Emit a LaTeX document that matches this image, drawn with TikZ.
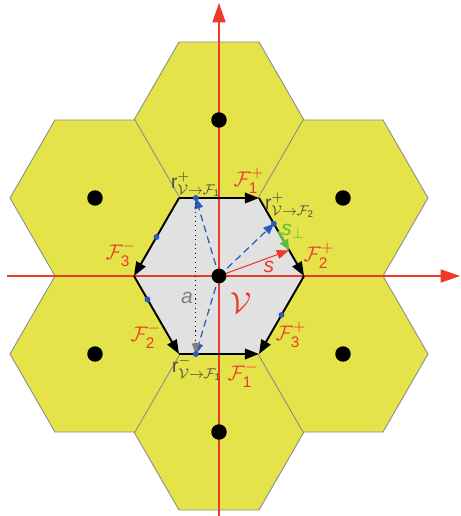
\documentclass[tikz,border=0pt]{standalone}
\usepackage{amsmath,amssymb}
\usepackage{fontspec}
\setmainfont{Liberation Sans}
\usetikzlibrary{arrows.meta,calc}

\definecolor{hexyellow}{RGB}{229,227,74}
\definecolor{cellgray}{RGB}{225,225,225}
\definecolor{axisred}{RGB}{236,58,42}
\definecolor{fluxblue}{RGB}{38,92,190}
\definecolor{perpgreen}{RGB}{88,190,58}
\definecolor{labelgray}{RGB}{70,78,70}

\newcommand{\Fc}[2]{\mathcal{F}^{#2}_{\text{#1}}}
\newcommand{\rflux}[2]{\text{r}^{#2}_{\mathcal{V}\to\mathcal{F}_{\text{#1}}}}

\begin{document}
\begin{tikzpicture}[x=0.02cm, y=0.02cm, >=Stealth,
    tile/.style={fill=hexyellow, draw=gray!90, line width=0.5pt},
    edge/.style={-{Triangle[length=8pt,width=6pt]}, line width=1.1pt},
    flux/.style={fluxblue, dash pattern=on 4pt off 2.5pt, line width=0.7pt, -{Triangle[length=6pt,width=5pt]}},
    axis/.style={axisred, line width=0.6pt, -{Triangle[length=11pt,width=7.5pt]}},
    lab/.style={text=axisred, font=\fontsize{12.5}{14}\selectfont, inner sep=1pt},
    rlab/.style={text=labelgray, font=\fontsize{11}{13}\selectfont, inner sep=1pt}]
    \useasboundingbox (-219,-240) rectangle (241,276);

    % neighbouring cells
    \foreach \cx/\cy in {0/156, 0/-156, 124/78, -124/78, 124/-78, -124/-78} {
        \draw[tile] (\cx+85,\cy) -- ++(-45,78) -- ++(-80,0) -- ++(-45,-78) -- ++(45,-78) -- ++(80,0) -- cycle;
    }

    % central cell V
    \coordinate (O) at (0,0);
    \coordinate (R) at (85,0);
    \coordinate (TR) at (40,78);
    \coordinate (TL) at (-40,78);
    \coordinate (L) at (-85,0);
    \coordinate (BL) at (-40,-78);
    \coordinate (BR) at (40,-78);
    \fill[cellgray] (R) -- (TR) -- (TL) -- (L) -- (BL) -- (BR) -- cycle;

    % axes
    \draw[axis] (-212,0) -- (241,0);
    \draw[axis] (0,-240) -- (0,273);

    % oriented faces
    \draw[edge] (TL) -- (TR);
    \draw[edge] (TR) -- (R);
    \draw[edge] (TL) -- (L);
    \draw[edge] (L) -- (BL);
    \draw[edge] (BL) -- (BR);
    \draw[edge] (R) -- (BR);

    % points on the faces
    \coordinate (r1p) at ($(TL)!0.21!(TR)$);
    \coordinate (r2p) at ($(TR)!0.33!(R)$);
    \coordinate (r3m) at ($(TL)!0.5!(L)$);
    \coordinate (r2m) at ($(L)!0.3!(BL)$);
    \coordinate (r1m) at ($(BL)!0.21!(BR)$);
    \coordinate (r3p) at ($(R)!0.5!(BR)$);
    \coordinate (S) at ($(TR)!0.67!(R)$);

    % s and its tangential part
    \draw[perpgreen, line width=1.4pt, shorten <=5pt, -{Triangle[length=6pt,width=5pt]}] (r2p) -- (S);
    \draw[axisred, line width=0.6pt, -{Triangle[length=7pt,width=5pt]}] (O) -- (S);

    % vectors to the faces
    \draw[flux] (O) -- (r1p);
    \draw[flux] (O) -- (r2p);
    \draw[flux] (O) -- (r1m);
    \draw[dotted, line width=0.6pt, -{Triangle[length=6pt,width=4.5pt,color=gray]}] (r1p) -- (r1m);

    \foreach \p in {r1p, r2p, r3m, r2m, r1m, r3p} {
        \fill[fluxblue] (\p) circle (1.7pt);
    }

    % cell centres
    \fill (O) circle (4.2pt);
    \foreach \cx/\cy in {0/156, 0/-156, 124/78, -124/78, 124/-78, -124/-78} {
        \fill (\cx,\cy) circle (4.4pt);
    }

    % labels
    \node[lab] (F1p) at (30,95) {$\Fc{1}{+}$};
    \node[lab] (F2p) at (100,20) {$\Fc{2}{+}$};
    \node[lab] (F3p) at (72,-59) {$\Fc{3}{+}$};
    \node[lab] (F1m) at (24,-99) {$\Fc{1}{-}$};
    \node[lab] (F2m) at (-73,-60) {$\Fc{2}{-}$};
    \node[lab] (F3m) at (-98,22) {$\Fc{3}{-}$};
    \node[rlab] (r1plab) at (-23,92) {$\rflux{1}{+}$};
    \node[rlab] (r2plab) at (71,71) {$\rflux{2}{+}$};
    \node[rlab] (r1mlab) at (-22,-92) {$\rflux{1}{-}$};
    \node[text=axisred, font=\LARGE] (Vlab) at (22,-27) {$\mathcal{V}$};
    \node[text=axisred, font=\large] (slab) at (50,9) {\textit{s}};
    \node[text=perpgreen, font=\large] (sperp) at (74,45) {\textit{s}$_{\perp}$};
    \node[text=gray, font=\large] (alab) at (-32,-22) {\textit{a}};
\end{tikzpicture}
\end{document}
